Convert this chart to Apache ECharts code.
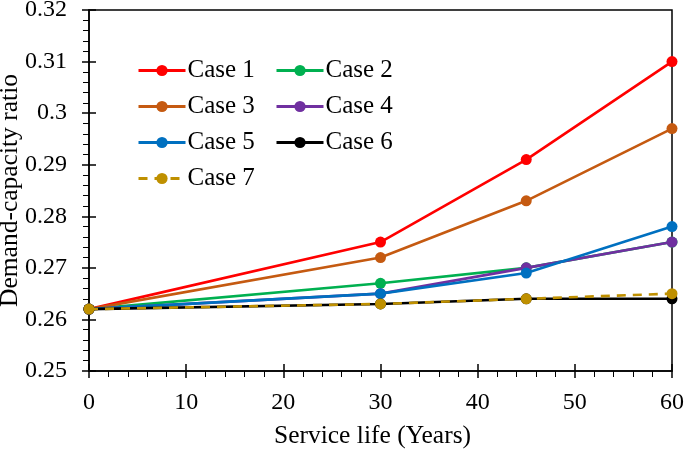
<!DOCTYPE html>
<html><head><meta charset="utf-8">
<script src="https://cdn.jsdelivr.net/npm/echarts@6/dist/echarts.min.js"></script>
<style>html,body{margin:0;padding:0;background:#fff}#c{width:685px;height:451px}</style>
</head><body><div id="c"></div>
<script>
const years = [0, 30, 45, 60];
const case1 = [0.262, 0.275, 0.291, 0.310];
const case2 = [0.262, 0.267, 0.270, 0.275];
const case3 = [0.262, 0.272, 0.283, 0.297];
const case4 = [0.262, 0.265, 0.270, 0.275];
const case5 = [0.262, 0.265, 0.269, 0.278];
const case6 = [0.262, 0.263, 0.264, 0.264];
const case7 = [0.262, 0.263, 0.264, 0.265];
const names = ['Case 1','Case 2','Case 3','Case 4','Case 5','Case 6','Case 7'];
const values = [case1, case2, case3, case4, case5, case6, case7];
const colors = ['#FF0000','#00B050','#C55A11','#7030A0','#0070C0','#000000','#BF9000'];
const FONT = 'Liberation Serif';

const series = names.map((n, i) => ({
  name: n, type: 'line', xAxisIndex: 0, yAxisIndex: 0,
  data: years.map((x, j) => [x, values[i][j]]),
  symbol: 'circle', symbolSize: 11,
  itemStyle: {color: colors[i]},
  lineStyle: {color: colors[i], width: 2.6, type: i === 6 ? [9, 7] : 'solid'},
  z: 2 + i
}));

const chart = echarts.init(document.getElementById('c'));
const legendBase = {
  orient: 'vertical', itemWidth: 47, itemHeight: 14, itemGap: 11,
  lineStyle: {width: 3},
  textStyle: {fontFamily: FONT, fontSize: 25, color: '#000', lineHeight: 22, padding: [0,0,0,-3]}
};
chart.setOption({
  animation: false,
  grid: {left: 89, right: 13, top: 10, bottom: 80, outerBoundsMode: 'none', containLabel: false,
         show: true, borderColor: '#000', borderWidth: 1.5},
  legend: [
    Object.assign({}, legendBase, {left: 132, top: 53, data: ['Case 1','Case 3','Case 5','Case 7']}),
    Object.assign({}, legendBase, {left: 270, top: 53, data: ['Case 2','Case 4','Case 6']})
  ],
  xAxis: [{
    type: 'value', min: 0, max: 60, interval: 10,
    name: 'Service life (Years)', nameLocation: 'middle', nameGap: 52, nameMoveOverlap: false,
    nameTextStyle: {fontFamily: FONT, fontSize: 25.5, color: '#000', padding: [0, 16, 0, 0]},
    axisLine: {lineStyle: {color: '#000', width: 1.5}},
    axisTick: {length: 7, lineStyle: {color: '#000', width: 1.5}},
    minorTick: {show: true, splitNumber: 5, length: 6, lineStyle: {color: '#000', width: 1}},
    axisLabel: {fontFamily: FONT, fontSize: 24, color: '#000', margin: 20},
    splitLine: {show: false}
  }, {
    type: 'value', min: 0, max: 60, interval: 10, position: 'bottom', gridIndex: 0,
    axisLine: {show: false},
    axisTick: {inside: true, length: 7, lineStyle: {color: '#000', width: 1.5}},
    minorTick: {show: false}, axisLabel: {show: false}, splitLine: {show: false}
  }],
  yAxis: [{
    type: 'value', min: 0.25, max: 0.32, interval: 0.01,
    name: 'Demand-capacity ratio', nameLocation: 'middle', nameGap: 66, nameMoveOverlap: false,
    nameTextStyle: {fontFamily: FONT, fontSize: 25.5, color: '#000'},
    axisLine: {show: true, lineStyle: {color: '#000', width: 1.5}},
    axisTick: {show: true, length: 7, lineStyle: {color: '#000', width: 1.5}},
    minorTick: {show: true, splitNumber: 5, length: 6, lineStyle: {color: '#000', width: 1}},
    axisLabel: {fontFamily: FONT, fontSize: 24, color: '#000', margin: 22},
    splitLine: {show: false}
  }, {
    type: 'value', min: 0.25, max: 0.32, interval: 0.01, position: 'left', gridIndex: 0,
    axisLine: {show: false},
    axisTick: {show: true, inside: true, length: 7, lineStyle: {color: '#000', width: 1.5}},
    minorTick: {show: false}, axisLabel: {show: false}, splitLine: {show: false}
  }],
  series: series
});
</script></body></html>
